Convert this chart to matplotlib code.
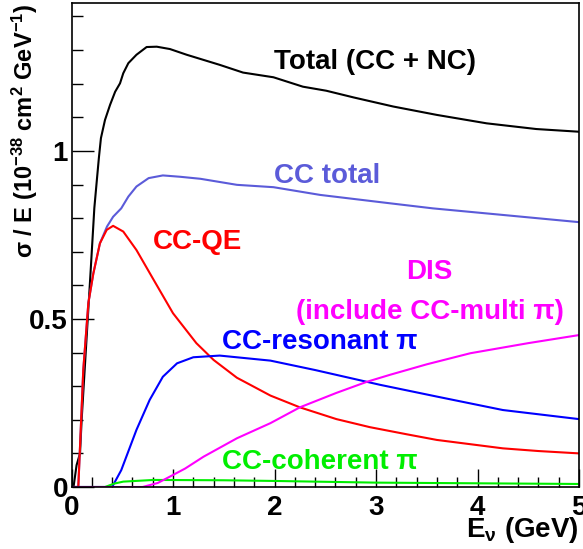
import matplotlib
matplotlib.use('Agg')
import matplotlib.pyplot as plt
from matplotlib.ticker import MultipleLocator, FixedLocator, FixedFormatter

plt.rcParams['font.family'] = ['Liberation Sans', 'DejaVu Sans']
plt.rcParams['font.weight'] = 'bold'
plt.rcParams['mathtext.fontset'] = 'custom'
plt.rcParams['mathtext.rm'] = 'Liberation Sans:bold'
plt.rcParams['mathtext.bf'] = 'Liberation Sans:bold'
plt.rcParams['mathtext.it'] = 'Liberation Sans:bold'

# 数据
total_x = [0.0, 0.02, 0.05, 0.084, 0.1, 0.15, 0.19, 0.225, 0.25, 0.27, 0.29, 0.33, 0.38, 0.43,
           0.478, 0.51, 0.56, 0.64, 0.74, 0.84, 0.97, 1.135, 1.46, 1.69, 1.99, 2.28, 2.51,
           2.78, 3.17, 3.6, 4.09, 4.58, 5.0]
total_y = [0.0, 0.0, 0.065, 0.1, 0.2, 0.45, 0.65, 0.83, 0.914, 0.98, 1.038, 1.092, 1.137, 1.176,
           1.201, 1.231, 1.261, 1.286, 1.309, 1.310, 1.303, 1.286, 1.256, 1.233, 1.219, 1.191, 1.179,
           1.159, 1.132, 1.107, 1.082, 1.065, 1.057]

cctot_x = [0.0, 0.067, 0.116, 0.166, 0.215, 0.28, 0.35, 0.41, 0.49, 0.56, 0.64, 0.76, 0.90,
           1.07, 1.27, 1.63, 1.99, 2.45, 3.14, 3.56, 4.3, 5.0]
cctot_y = [0.0, 0.0, 0.348, 0.547, 0.635, 0.725, 0.775, 0.804, 0.829, 0.864, 0.894, 0.919, 0.927,
           0.923, 0.917, 0.899, 0.892, 0.869, 0.844, 0.829, 0.808, 0.788]

qe_x = [0.0, 0.067, 0.116, 0.166, 0.215, 0.28, 0.347, 0.41, 0.51, 0.64, 0.81, 1.0, 1.23,
        1.40, 1.63, 1.73, 1.96, 2.25, 2.61, 2.94, 3.3, 3.6, 4.25, 4.6, 5.0]
qe_y = [0.0, 0.0, 0.348, 0.547, 0.635, 0.725, 0.765, 0.777, 0.76, 0.705, 0.616, 0.517, 0.428,
        0.378, 0.325, 0.309, 0.272, 0.237, 0.202, 0.178, 0.157, 0.14, 0.115, 0.107, 0.10]

res_x = [0.0, 0.40, 0.49, 0.64, 0.77, 0.90, 1.04, 1.2, 1.46, 1.96, 2.4, 3.04, 3.6, 4.25, 5.0]
res_y = [0.0, 0.0, 0.05, 0.17, 0.259, 0.328, 0.368, 0.386, 0.391, 0.376, 0.348, 0.304,
         0.269, 0.229, 0.202]

coh_x = [0.0, 0.33, 0.42, 0.51, 0.81, 1.5, 2.0, 3.0, 4.0, 5.0]
coh_y = [0.0, 0.0, 0.01, 0.016, 0.021, 0.02, 0.018, 0.013, 0.011, 0.009]

dis_x = [0.0, 0.7, 0.85, 0.97, 1.12, 1.30, 1.63, 1.96, 2.25, 2.61, 2.91, 3.14, 3.5, 3.93, 4.5, 5.0]
dis_y = [0.0, 0.0, 0.012, 0.031, 0.055, 0.09, 0.145, 0.19, 0.237, 0.28, 0.313, 0.334, 0.365,
         0.398, 0.428, 0.452]

c_total, c_cc, c_qe, c_res, c_coh, c_dis = 'black', '#5b5bd9', '#ff0000', '#0000ff', '#00ee00', '#ff00ff'

fig = plt.figure(figsize=(5.83, 5.49), dpi=100)
ax = fig.add_axes([71.5 / 583, 1 - 487 / 549, (579 - 71.5) / 583, (487 - 3) / 549])

lw = 1.5
ax.plot(total_x, total_y, color=c_total, lw=lw)
ax.plot(cctot_x, cctot_y, color=c_cc, lw=lw)
ax.plot(qe_x, qe_y, color=c_qe, lw=lw)
ax.plot(res_x, res_y, color=c_res, lw=lw)
ax.plot(coh_x, coh_y, color=c_coh, lw=lw)
ax.plot(dis_x, dis_y, color=c_dis, lw=lw)

ax.set_xlim(0, 5)
ax.set_ylim(0, 1.44)

ax.xaxis.set_major_locator(MultipleLocator(1))
ax.xaxis.set_minor_locator(MultipleLocator(0.2))
ax.yaxis.set_major_locator(FixedLocator([0, 0.5, 1]))
ax.yaxis.set_major_formatter(FixedFormatter(['0', '0.5', '1']))
ax.yaxis.set_minor_locator(MultipleLocator(0.1))
ax.tick_params(axis='x', which='major', direction='in', length=13, width=1, pad=6, labelsize=20)
ax.tick_params(axis='x', which='minor', direction='in', length=7, width=1)
ax.tick_params(axis='y', which='major', direction='in', length=16, width=1, pad=2.5, labelsize=20)
ax.tick_params(axis='y', which='minor', direction='in', length=8, width=1)
for lab in ax.get_xticklabels() + ax.get_yticklabels():
    lab.set_fontweight('bold')
for s in ax.spines.values():
    s.set_linewidth(1.2)

fs = 20
ax.text(2.0, 1.265, 'Total (CC + NC)', color=c_total, fontsize=fs, fontweight='bold', va='center')
ax.text(2.0, 0.926, 'CC total', color=c_cc, fontsize=fs, fontweight='bold', va='center')
ax.text(0.8, 0.73, 'CC-QE', color=c_qe, fontsize=fs, fontweight='bold', va='center')
ax.text(3.53, 0.64, 'DIS', color=c_dis, fontsize=fs, fontweight='bold', ha='center', va='center')
ax.text(3.53, 0.52, '(include CC-multi π)', color=c_dis, fontsize=fs, fontweight='bold',
        ha='center', va='center')
ax.text(1.48, 0.43, 'CC-resonant π', color=c_res, fontsize=fs, fontweight='bold', va='center')
ax.text(1.48, 0.074, 'CC-coherent π', color=c_coh, fontsize=fs, fontweight='bold', va='center')

fig.text(25 / 583, 1 - 4 / 549, r'σ / E (10$^{\mathrm{-38}}$ cm$^{\mathrm{2}}$ GeV$^{\mathrm{-1}}$)',
         rotation=90, ha='center', va='top', fontsize=17, fontweight='bold')
fig.text(579 / 583, 1 - 530 / 549, r'E$_{\mathrm{ν}}$ (GeV)', ha='right', va='center',
         fontsize=20, fontweight='bold')

plt.savefig('out.png', dpi=100)
